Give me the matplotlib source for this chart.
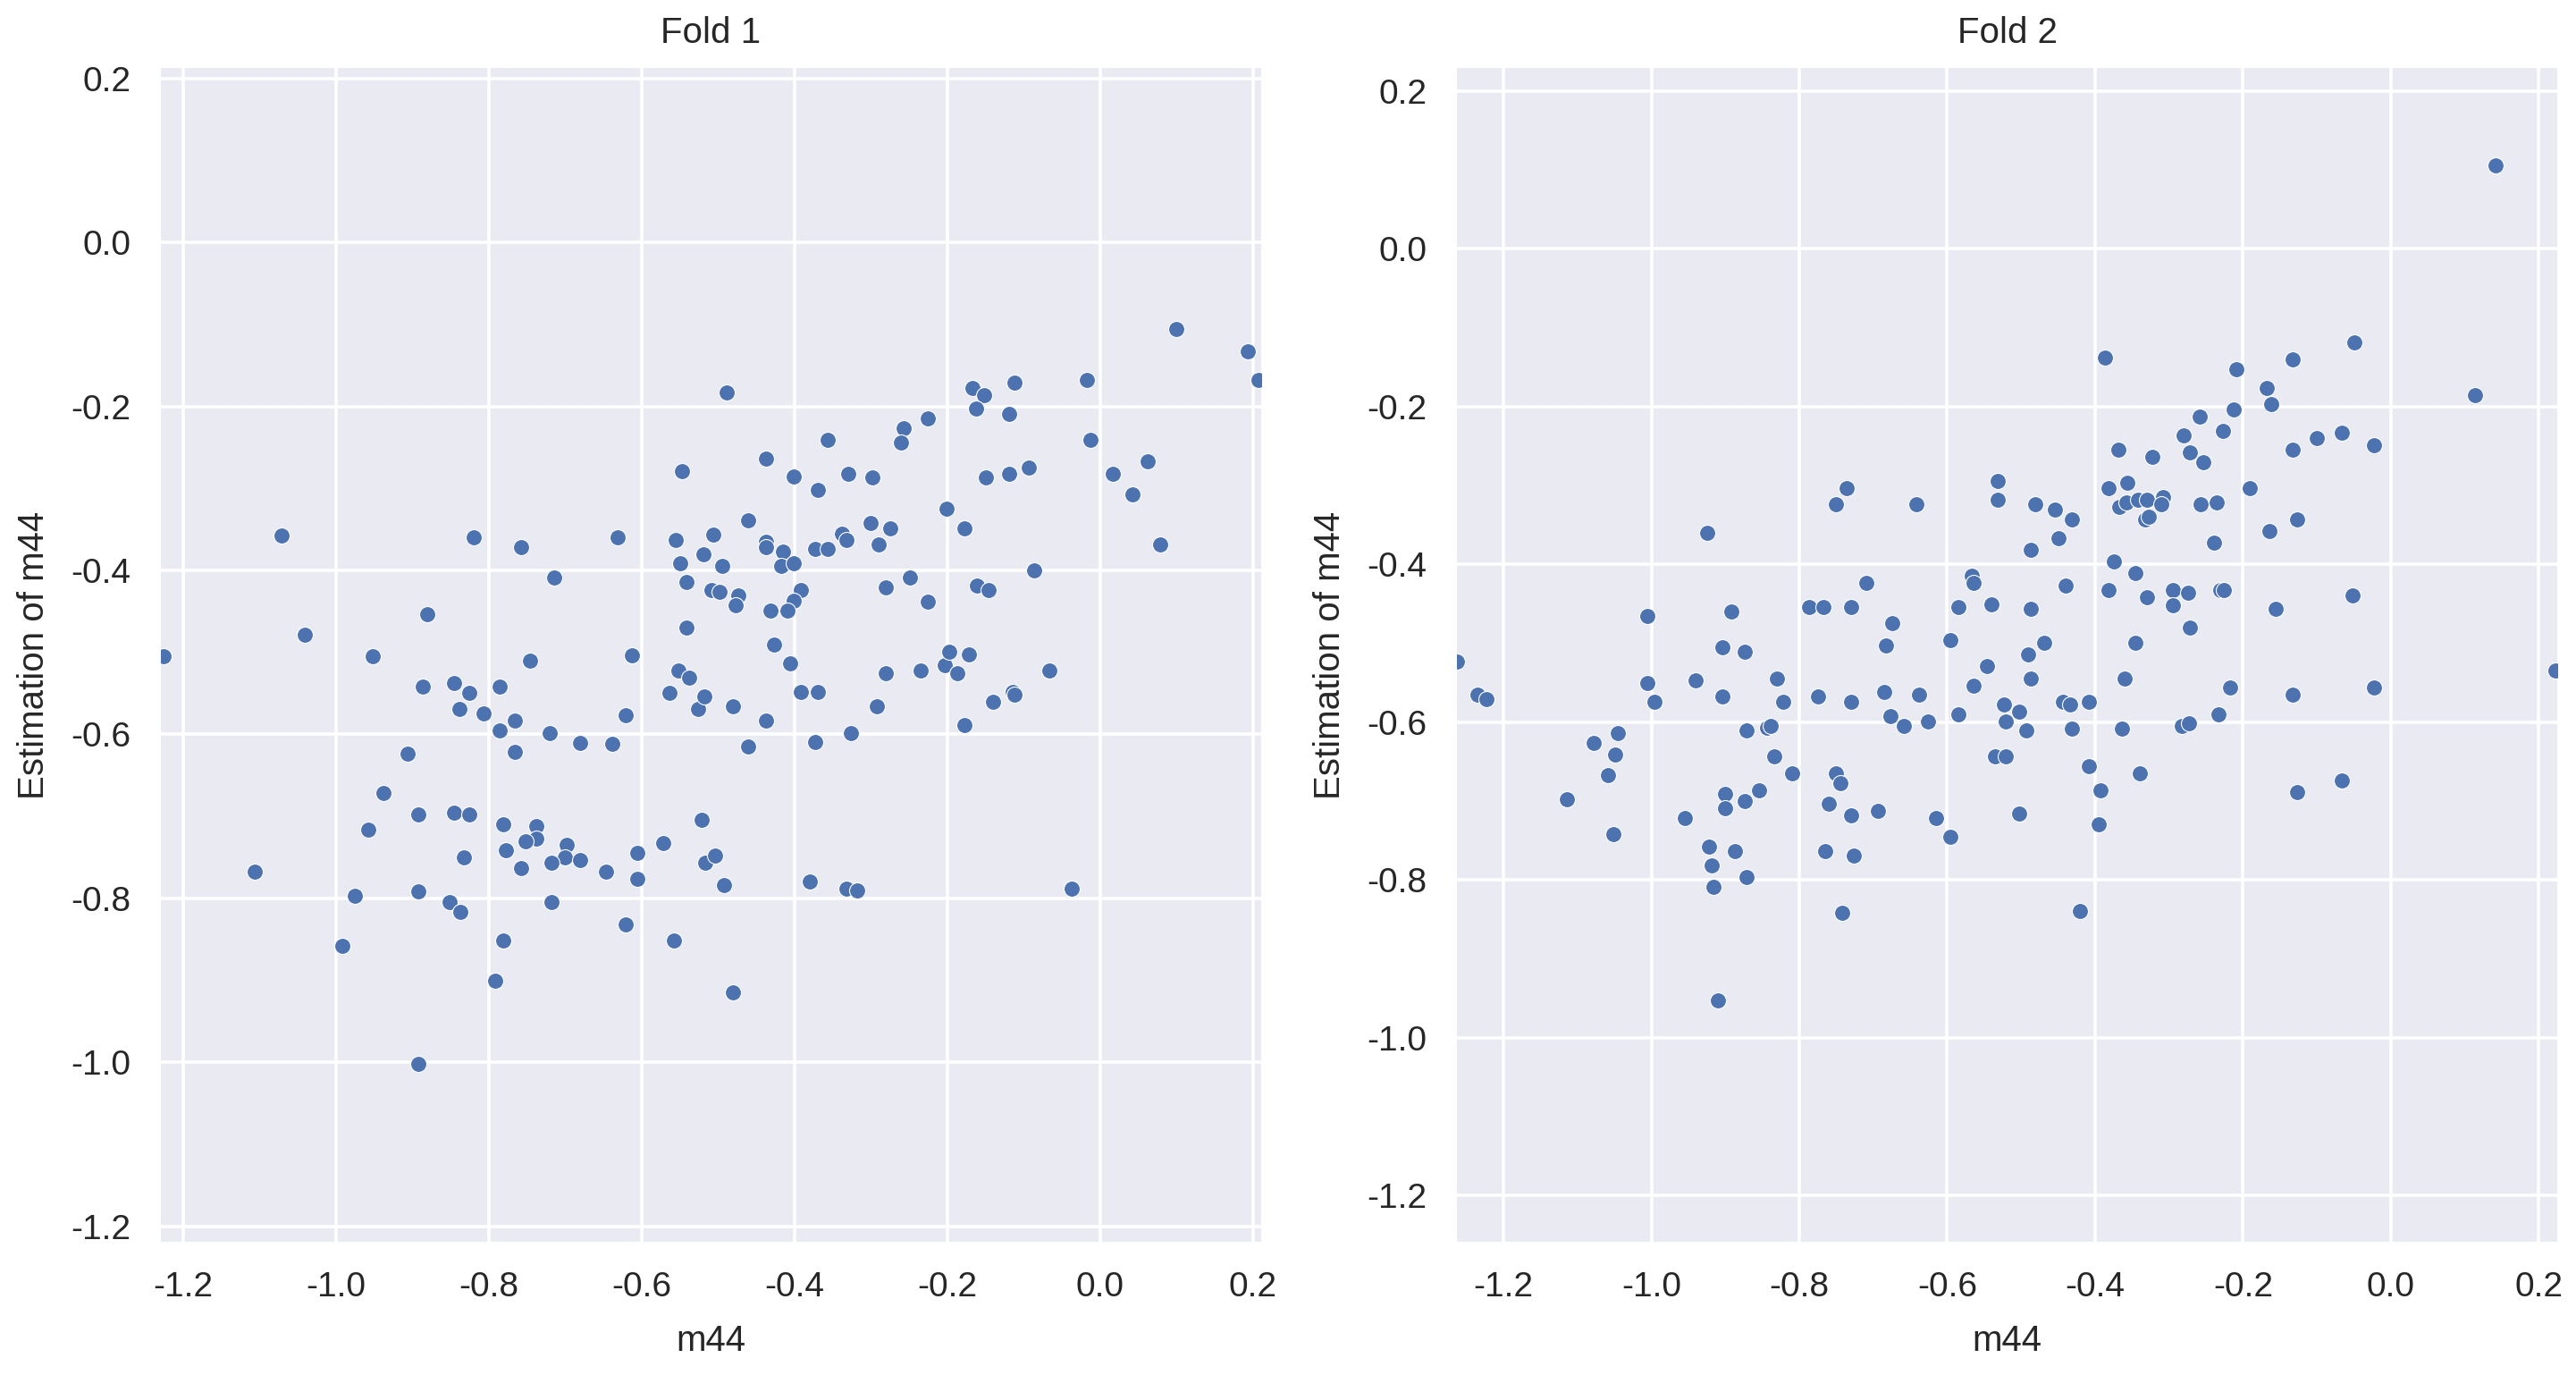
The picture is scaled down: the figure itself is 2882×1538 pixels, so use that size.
import matplotlib
matplotlib.use("Agg")
import matplotlib.pyplot as plt
import numpy as np

# ---------------- data ----------------
fold1_true = [
    -1.0715, -0.820, -0.758, -0.632, -0.547, -0.555, -0.519, -0.550, -0.715, -0.541,
    -0.880, -0.541, -1.041, -1.226, -0.952, -0.746, -0.613, -0.552, -0.538, -0.564,
    -0.526, -0.886, -0.846, -0.826, -0.786, -0.838, -0.807, -0.766, -0.786, -0.720,
    -0.680, -0.638, -0.621, -0.766, -0.906, -0.938,
    0.099, 0.193, 0.2075, -0.4885, -0.167, -0.1515, -0.112, -0.0175, -0.163, -0.119,
    -0.226, -0.257, -0.261, -0.0127, -0.357, -0.4375, -0.4007, -0.3293, -0.298, -0.369,
    -0.150, -0.119, -0.093, 0.0159, 0.0622, 0.0416, 0.0788, -0.201, -0.1777, -0.4604,
    -0.5067, -0.4948, -0.4375, -0.4375, -0.415, -0.4175, -0.4007, -0.373, -0.357, -0.3384,
    -0.332, -0.3007, -0.275, -0.2897, -0.249, -0.281, -0.226, -0.161, -0.1467, -0.087,
    -0.509, -0.498, -0.474, -0.4776, -0.3917, -0.4007, -0.4317, -0.409, -0.4265, -0.406,
    -0.281, -0.235, -0.203, -0.1977, -0.172, -0.1868, -0.0666, -0.5176, -0.481, -0.3917,
    -0.369, -0.4375, -0.4604, -0.373, -0.3265, -0.2926, -0.1777, -0.1405, -0.1146, -0.112,
    -0.892, -0.846, -0.826, -0.9575, -0.781, -0.7373, -0.7373, -0.752, -0.7774, -0.6977,
    -0.7003, -0.6805, -0.718, -0.7576, -0.8325, -0.6464, -0.6057, -0.6057, -0.572, -0.5214,
    -0.5167, -1.106, -0.975, -0.892, -0.8518, -0.8375, -0.718, -0.781, -0.6206, -0.558,
    -0.9912, -0.7922, -0.892,
    -0.504, -0.4923, -0.3805, -0.332, -0.3178, -0.0378, -0.481,
]
fold1_pred = [
    -0.357, -0.360, -0.372, -0.360, -0.279, -0.363, -0.380, -0.391, -0.409, -0.414,
    -0.453, -0.470, -0.479, -0.505, -0.505, -0.510, -0.504, -0.522, -0.531, -0.549,
    -0.569, -0.542, -0.537, -0.549, -0.542, -0.569, -0.574, -0.583, -0.595, -0.598,
    -0.610, -0.612, -0.577, -0.621, -0.623, -0.672,
    -0.105, -0.133, -0.168, -0.183, -0.177, -0.186, -0.171, -0.168, -0.203, -0.209,
    -0.215, -0.226, -0.244, -0.241, -0.241, -0.264, -0.285, -0.282, -0.287, -0.302,
    -0.287, -0.282, -0.275, -0.282, -0.267, -0.3075, -0.368, -0.325, -0.3485, -0.339,
    -0.356, -0.394, -0.365, -0.3715, -0.377, -0.394, -0.391, -0.374, -0.374, -0.355,
    -0.363, -0.342, -0.3485, -0.368, -0.409, -0.421, -0.438, -0.418, -0.4237, -0.400,
    -0.424, -0.426, -0.431, -0.443, -0.424, -0.437, -0.4495, -0.4495, -0.4905, -0.5134,
    -0.525, -0.522, -0.5155, -0.499, -0.502, -0.525, -0.522, -0.554, -0.5656, -0.548,
    -0.548, -0.583, -0.6145, -0.609, -0.598, -0.5656, -0.589, -0.560, -0.548, -0.551,
    -0.698, -0.6956, -0.698, -0.716, -0.710, -0.712, -0.7276, -0.730, -0.7414, -0.735,
    -0.7505, -0.753, -0.7563, -0.763, -0.7505, -0.768, -0.7447, -0.7766, -0.733, -0.704,
    -0.7563, -0.768, -0.797, -0.791, -0.805, -0.817, -0.805, -0.8515, -0.8315, -0.8515,
    -0.8577, -0.901, -1.0023,
    -0.7475, -0.7837, -0.779, -0.788, -0.7905, -0.788, -0.915,
]

fold2_true = [
    -0.925, -0.750, -0.7355, -0.6412, -0.5317, -0.5317, -0.5672, -0.5647, -0.7088, -0.7863,
    -0.768, -0.730, -0.8925, -1.005, -0.6743, -0.585, -0.5405, -0.6827, -0.5963, -0.9043,
    -0.8742, -0.5464, -0.5647, -1.263, -1.235, -1.2236, -1.005, -0.9956, -0.9398, -0.9043,
    -0.8302, -0.8214, -0.7745, -0.730, -0.6856, -0.6378, -0.6768, -0.659, -0.626, -0.585,
    -0.5228, -0.5203, -0.8717, -0.8436, -0.8387, -1.046, -1.0785, -1.0495, -1.0583, -0.8333,
    -0.810, -0.750, -0.7449, -0.8544, -0.5352, -0.5203, -1.114, -0.9008, -0.874, -0.7597,
    -0.694,
    -0.9008, -0.9542, -1.0519, -0.9221, -0.8866, -0.9191, -0.8717, -0.9162, -0.9103, -0.730,
    -0.765, -0.7266, -0.7415, -0.6146, -0.5963, -0.503,
    -0.3865, -0.0490, -0.1328, -0.2095, -0.168, -0.162, -0.2126, 0.1136, -0.259, -0.2274,
    -0.2804, -0.2716, -0.254, -0.369, -0.322, -0.1328, -0.100, -0.0668, -0.0227, -0.3815,
    -0.3567, -0.4811, -0.4544, -0.431, -0.449, -0.4875, -0.3672, -0.3572, -0.3424, -0.330,
    -0.3077, -0.310, -0.3325, -0.3274, -0.2567, -0.2358, -0.1913, -0.2393, -0.1644, -0.1263,
    -0.375, -0.3453, -0.4401, -0.3815, -0.330, -0.2953, -0.274, -0.2953, -0.2308, -0.2258,
    -0.0516, -0.4875, -0.156, -0.2716, -0.4688, -0.3453, -0.4907, -0.4875, -0.3597, -0.218,
    -0.1328, -0.0227, 0.2226, -0.5024, -0.4936, -0.443, -0.434, -0.4079, -0.431, -0.3632,
    -0.2829, -0.273, -0.2329, -0.4079, -0.3399, -0.393, -0.1263, -0.0668,
    0.142, -0.420, -0.395,
]
fold2_pred = [
    -0.360, -0.324, -0.303, -0.324, -0.294, -0.3186, -0.414, -0.423, -0.423, -0.454,
    -0.454, -0.454, -0.4598, -0.466, -0.475, -0.454, -0.451, -0.5024, -0.4958, -0.505,
    -0.511, -0.529, -0.5536, -0.523, -0.565, -0.571, -0.550, -0.5744, -0.547, -0.568,
    -0.5445, -0.5744, -0.568, -0.5744, -0.5623, -0.565, -0.5926, -0.605, -0.599, -0.5897,
    -0.5775, -0.599, -0.611, -0.6066, -0.6044, -0.614, -0.626, -0.641, -0.667, -0.6435,
    -0.6644, -0.6644, -0.6775, -0.686, -0.6435, -0.6435, -0.698, -0.691, -0.700, -0.7036,
    -0.7124,
    -0.7096, -0.7214, -0.7426, -0.7577, -0.7634, -0.7818, -0.7966, -0.809, -0.953, -0.7184,
    -0.7637, -0.7697, -0.8423, -0.7214, -0.7456, -0.7158,
    -0.1374, -0.1187, -0.140, -0.152, -0.176, -0.197, -0.2035, -0.185, -0.2126, -0.231,
    -0.2365, -0.2577, -0.270, -0.2548, -0.2638, -0.2548, -0.2396, -0.2335, -0.2487, -0.303,
    -0.297, -0.324, -0.330, -0.3425, -0.3663, -0.3815, -0.327, -0.322, -0.3186, -0.3186,
    -0.3143, -0.324, -0.3425, -0.3394, -0.324, -0.3212, -0.303, -0.372, -0.3572, -0.3425,
    -0.3964, -0.411, -0.4268, -0.4329, -0.442, -0.4329, -0.436, -0.4515, -0.4329, -0.4329,
    -0.439, -0.4567, -0.4567, -0.4806, -0.4989, -0.4989, -0.5145, -0.5445, -0.5445, -0.5562,
    -0.5653, -0.5562, -0.535, -0.587, -0.611, -0.5744, -0.5775, -0.5744, -0.608, -0.608,
    -0.605, -0.6018, -0.5897, -0.6557, -0.6644, -0.686, -0.689, -0.674,
    0.106, -0.840, -0.730,
]

titles = ["Fold 1", "Fold 2"]
x_label = "m44"
y_label = "Estimation of m44"
tick_values = [-1.2, -1.0, -0.8, -0.6, -0.4, -0.2, 0.0, 0.2]
limits = [((-1.229, 0.2105), (-1.219, 0.213)),
          ((-1.263, 0.225), (-1.259, 0.2295))]

# ---------------- style ----------------
plt.rcParams["font.family"] = ["Liberation Sans", "DejaVu Sans"]
text_color = "#262626"
face = "#EAEAF2"
point_color = "#4C72B0"

W, H, DPI = 2882, 1538, 200
fig = plt.figure(figsize=(W / DPI, H / DPI), dpi=DPI, facecolor="white")

ax_w = 1231 / W
ax_h = 1313 / H
bottom = (H - 1389) / H
lefts = [180 / W, 1630 / W]

data = [(fold1_true, fold1_pred), (fold2_true, fold2_pred)]
for i in range(2):
    ax = fig.add_axes([lefts[i], bottom, ax_w, ax_h])
    ax.set_facecolor(face)
    for s in ax.spines.values():
        s.set_visible(False)
    ax.grid(True, color="white", linewidth=1.3)
    ax.set_axisbelow(True)
    xt, yp = data[i]
    ax.scatter(xt, yp, s=42, color=point_color, edgecolor="white",
               linewidth=0.4, zorder=3)
    ax.set_xticks(tick_values)
    ax.set_yticks(tick_values)
    ax.set_xticklabels([f"{v:.1f}" for v in tick_values])
    ax.set_yticklabels([f"{v:.1f}" for v in tick_values])
    ax.set_xlim(*limits[i][0])
    ax.set_ylim(*limits[i][1])
    ax.tick_params(axis="both", length=0, labelsize=14, colors=text_color, pad=12)
    ax.set_xlabel(x_label, fontsize=14.5, color=text_color, labelpad=8)
    ax.set_ylabel(y_label, fontsize=14.5, color=text_color, labelpad=8)
    ax.set_title(titles[i], fontsize=14.5, color=text_color, pad=10)

fig.savefig("out.png", dpi=DPI, facecolor="white")
